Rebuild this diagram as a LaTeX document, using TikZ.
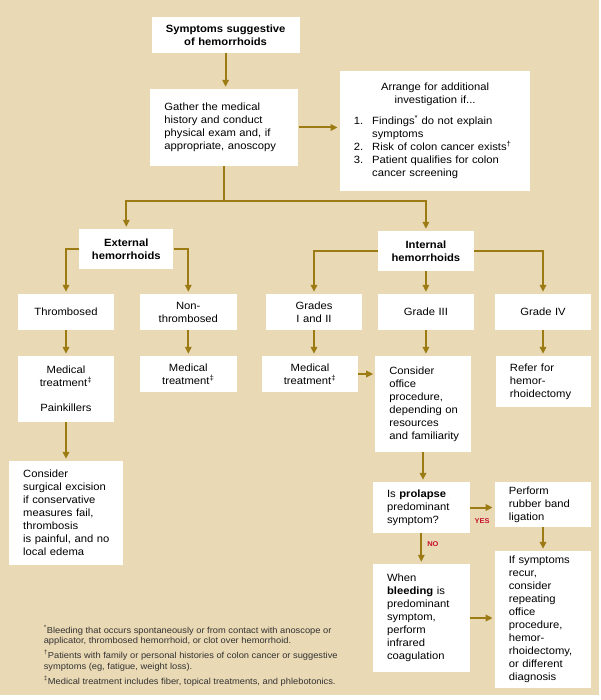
\documentclass[tikz,border=0pt]{standalone}
\usepackage{fontspec}
\setmainfont{Liberation Sans}[FakeStretch=1.07]
\usetikzlibrary{arrows.meta, calc}

\definecolor{beige}{HTML}{E9D9B4}
\definecolor{gold}{HTML}{9C7A14}
\definecolor{alertred}{HTML}{C8102E}

\begin{document}
\begin{tikzpicture}[x=1pt, y=-1pt,
    % --- styles ---
    box/.style={fill=white, inner xsep=4pt, inner ysep=0pt, align=center,
        font=\fontsize{10.5}{13}\selectfont},
    lbox/.style={box, inner xsep=0pt, align=left,
        execute at begin node={\leftskip=14pt\hyphenpenalty=10000\relax}},
    hdr/.style={box, font=\fontsize{10.5}{13}\selectfont\bfseries},
    flow/.style={draw=gold, line width=2pt, -{Triangle[length=7pt,width=6.5pt]}, shorten >=2pt},
    link/.style={draw=gold, line width=2pt},
    answer/.style={font=\fontsize{7}{8}\selectfont\bfseries, text=alertred, inner sep=1pt},
    footnotes/.style={font=\fontsize{8.7}{10.7}\selectfont, text=black!80, align=left, inner sep=0pt}
]

    % =========================================
    % background panel
    % =========================================
    \useasboundingbox (0,0) rectangle (600,700);
    \fill[beige] (0,0) rectangle (599,695);

    % =========================================
    % top: symptoms and first work-up
    % =========================================
    \node[hdr, text width=140pt, minimum height=36pt] (symptoms) at (225.6,35)
        {Symptoms suggestive\\of hemorrhoids};
    \node[lbox, text width=148pt, minimum height=77pt] (gather) at (224.4,127.5)
        {Gather the medical\\history and conduct\\physical exam and, if\\appropriate, anoscopy};
    \node[lbox, text width=190.6pt, minimum height=120pt] (arrange) at (435.1,131)
        {\makebox[162.6pt]{Arrange for additional}\\\makebox[162.6pt]{investigation if...}\\[8pt]
         \makebox[18.4pt][l]{1.}Findings\textsuperscript{*} do not explain\\
         \hspace*{18.4pt}symptoms\\
         \makebox[18.4pt][l]{2.}Risk of colon cancer exists\textsuperscript{†}\\
         \makebox[18.4pt][l]{3.}Patient qualifies for colon\\
         \hspace*{18.4pt}cancer screening};

    \draw[flow] (symptoms.south) -- (symptoms.south |- gather.north);
    \draw[flow] (gather.east) -- (gather.east -| arrange.west);

    % =========================================
    % split: external / internal
    % =========================================
    \node[hdr, text width=86pt, minimum height=40pt] (external) at (126.3,249)
        {External\\hemorrhoids};
    \node[hdr, text width=88.4pt, minimum height=40pt] (internal) at (425.9,251)
        {Internal\\hemorrhoids};

    \coordinate (split) at ($(gather.south)+(0,35)$);
    \draw[link] (gather.south) -- (split);
    \draw[flow] (split) -| (external.north);
    \draw[flow] (split) -| (internal.north);

    % =========================================
    % row of types and grades
    % =========================================
    \node[box, text width=87.3pt, minimum height=36pt] (thromb) at (66,312) {Thrombosed};
    \node[box, text width=88.5pt, minimum height=36pt] (nonthromb) at (188.3,312) {Non-\\thrombosed};
    \node[box, text width=87.3pt, minimum height=36pt] (grades) at (314,312) {Grades\\I and II};
    \node[box, text width=88.4pt, minimum height=36pt] (gradethree) at (425.9,312) {Grade III};
    \node[box, text width=88pt, minimum height=36pt] (gradefour) at (543,312) {Grade IV};

    \draw[flow] (external.west) -| (thromb.north);
    \draw[flow] (external.east) -| (nonthromb.north);
    \draw[flow] (internal.west) -| (grades.north);
    \draw[flow] (internal.south) -- (gradethree.north);
    \draw[flow] (internal.east) -| (gradefour.north);

    % =========================================
    % treatments
    % =========================================
    \node[box, text width=87.3pt, minimum height=66pt] (medone) at (66,389)
        {Medical\\treatment\textsuperscript{‡}\\[12pt]Painkillers};
    \node[box, text width=88.5pt, minimum height=36pt] (medtwo) at (188.3,374)
        {Medical\\treatment\textsuperscript{‡}};
    \node[box, text width=88.5pt, minimum height=36pt] (medthree) at (310,374)
        {Medical\\treatment\textsuperscript{‡}};
    \node[lbox, text width=95.3pt, minimum height=96pt] (office) at (423,404)
        {Consider\\office\\procedure,\\depending on\\resources\\and familiarity};
    \node[lbox, text width=95.3pt, minimum height=51pt] (refer) at (543.6,381.5)
        {Refer for\\hemor-\\rhoidectomy};

    \draw[flow] (thromb.south) -- (medone.north);
    \draw[flow] (nonthromb.south) -- (medtwo.north);
    \draw[flow] (grades.south) -- (grades.south |- medthree.north);
    \draw[flow] (gradethree.south) -- (gradethree.south |- office.north);
    \draw[flow] (gradefour.south) -- (gradefour.south |- refer.north);
    \draw[flow] (medthree.east) -- (medthree.east -| office.west);

    % =========================================
    % lower part
    % =========================================
    \node[lbox, text width=113.6pt, minimum height=104pt] (surgical) at (66,513)
        {Consider\\surgical excision\\if conservative\\measures fail,\\thrombosis\\is painful, and no\\local edema};
    \node[lbox, text width=96.4pt, minimum height=51pt] (prolapse) at (421.3,507.5)
        {Is \textbf{prolapse}\\predominant\\symptom?};
    \node[lbox, text width=96.4pt, minimum height=45pt] (ligation) at (543,504.5)
        {Perform\\rubber band\\ligation};
    \node[lbox, text width=96.4pt, minimum height=108pt] (bleeding) at (421.3,618)
        {When\\\textbf{bleeding} is\\predominant\\symptom,\\perform\\infrared\\coagulation};
    \node[lbox, text width=96.4pt, minimum height=137pt] (recur) at (543,619.5)
        {If symptoms\\recur,\\consider\\repeating\\office\\procedure,\\hemor-\\rhoidectomy,\\or different\\diagnosis};

    \draw[flow] (medone.south) -- (surgical.north);
    \draw[flow] (office.south) -- (office.south |- prolapse.north);
    \draw[flow] (prolapse.east) -- (prolapse.east -| ligation.west)
        node[midway, below=9pt, answer] {YES};
    \draw[flow] (prolapse.south) -- (bleeding.north)
        node[pos=0.35, right=4pt, answer] {NO};
    \draw[flow] (ligation.south) -- (recur.north);
    \draw[flow] (bleeding.east) -- (bleeding.east -| recur.west);

    % --- footnotes ---
    \node[footnotes, anchor=north west] (notes) at (43.6,625)
        {\textsuperscript{*}Bleeding that occurs spontaneously or from contact with anoscope or\\
         applicator, thrombosed hemorrhoid, or clot over hemorrhoid.\\[4pt]
         \textsuperscript{†}Patients with family or personal histories of colon cancer or suggestive\\
         symptoms (eg, fatigue, weight loss).\\[4pt]
         \textsuperscript{‡}Medical treatment includes fiber, topical treatments, and phlebotonics.};

\end{tikzpicture}
\end{document}
